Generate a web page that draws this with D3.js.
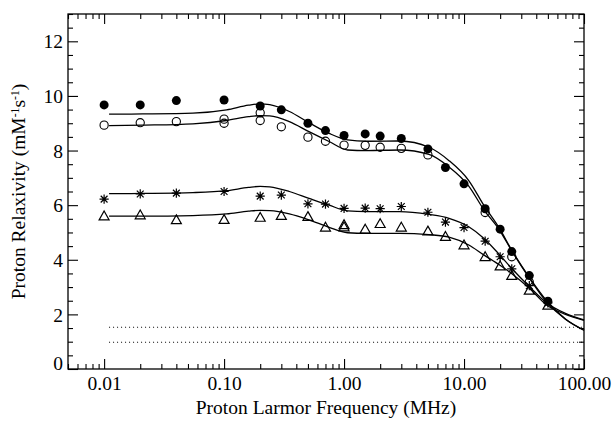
<!DOCTYPE html>
<html><head><meta charset="utf-8">
<script src="https://cdn.jsdelivr.net/npm/d3@7"></script>
<style>
body{margin:0;background:#fff}
svg{display:block}
text{font-family:"Liberation Serif","Times New Roman",serif;fill:#000}
</style></head><body><svg id="c" width="613" height="423"></svg>
<script>
// ---------- data ----------
const freqs = [0.01,0.02,0.04,0.1,0.2,0.3,0.5,0.7,1,1.5,2,3,5,7,10,15,20,25,35,50];
const filledVals = [9.67,9.67,9.83,9.85,9.63,9.49,9.0,8.73,8.55,8.61,8.53,8.44,8.06,7.38,6.78,5.87,5.12,4.3,3.42,2.48];
const openFreqs = [0.01,0.02,0.04,0.1,0.1,0.2,0.2,0.3,0.5,0.7,1,1.5,2,3,5,15,25,35];
const openVals = [8.93,9.02,9.06,9.15,9.0,9.38,9.1,8.87,8.49,8.34,8.2,8.19,8.12,8.08,7.84,5.73,4.11,3.18];
const asterVals = [6.22,6.41,6.44,6.5,6.33,6.37,6.05,6.04,5.88,5.89,5.87,5.95,5.74,5.38,5.18,4.68,4.11,3.67,3.05,2.42];
const triFreqs = [0.01,0.02,0.04,0.1,0.2,0.3,0.5,0.7,1,1,1.5,2,3,5,7,10,15,20,25,35,50];
const triVals = [5.6,5.64,5.46,5.47,5.55,5.62,5.58,5.19,5.28,5.2,5.12,5.32,5.19,5.05,4.85,4.54,4.11,3.77,3.42,2.88,2.33];

const fitFreqs = [0.011,0.021,0.055,0.105,0.16,0.2,0.24,0.35,0.51,0.75,1.07,1.54,2.9,5.1,7.5,10.95,14.6,19.8,24.9,35,48.9,70,100];
const fitFilled = [9.33,9.34,9.37,9.49,9.66,9.71,9.68,9.43,9.02,8.63,8.39,8.34,8.35,8.12,7.63,6.9,6.0,5.14,4.36,3.36,2.5,1.83,1.42];
const fitOpen = [8.91,8.93,8.98,9.1,9.24,9.28,9.27,9.06,8.69,8.33,8.02,8.0,8.02,7.86,7.4,6.7,5.84,5.08,4.34,3.33,2.45,1.82,1.42];
const fitAster = [6.42,6.43,6.46,6.53,6.65,6.69,6.67,6.5,6.25,6.0,5.79,5.76,5.76,5.66,5.52,5.21,4.79,4.18,3.69,3.02,2.42,2.04,1.8];
const fitTri = [5.6,5.6,5.62,5.68,5.78,5.81,5.8,5.68,5.46,5.19,4.99,4.97,4.97,4.92,4.83,4.54,4.18,3.81,3.5,2.96,2.34,2.0,1.78];

const dottedVals = [1.53, 0.98];
const dottedRange = [0.011, 100];

const xTickValues = [0.01, 0.1, 1, 10, 100];
const xTickLabels = ["0.01", "0.10", "1.00", "10.00", "100.00"];
const yTickValues = [0, 2, 4, 6, 8, 10, 12];
const yTickLabels = ["0", "2", "4", "6", "8", "10", "12"];
const xTitle = "Proton Larmor Frequency (MHz)";

// ---------- layout ----------
const L = 68, R = 584, T = 14, B = 369;
const svg = d3.select("#c");
const x = d3.scaleLog().domain([0.005, 100]).range([L, R]);
const y = d3.scaleLinear().domain([0, 13]).range([B, T]);

const xMinor = [];
[0.001,0.01,0.1,1,10].forEach(d => { for (let k=2;k<=9;k++){ const v=d*k; if (v>=0.005 && v<100) xMinor.push(v);} });
const yMinor = d3.range(0, 13.01, 0.5).filter(v => v % 2 !== 0);

const fs = 19.5;
function style(g){ g.select(".domain").remove(); g.selectAll("line").attr("stroke","#000").attr("stroke-width",1.1); g.selectAll("text").attr("font-size",fs).attr("fill","#000").attr("font-family",'"Liberation Serif","Times New Roman",serif'); }

// bottom
svg.append("g").attr("transform",`translate(0,${B})`)
  .call(d3.axisBottom(x).tickValues(xTickValues).tickSizeInner(-10).tickSizeOuter(0).tickPadding(7)
    .tickFormat((d,i)=>xTickLabels[i])).call(style);
svg.append("g").attr("transform",`translate(0,${B})`)
  .call(d3.axisBottom(x).tickValues(xMinor).tickSize(-5).tickFormat("")).call(style);
// top
svg.append("g").attr("transform",`translate(0,${T})`)
  .call(d3.axisTop(x).tickValues(xTickValues).tickSize(-10).tickFormat("")).call(style);
svg.append("g").attr("transform",`translate(0,${T})`)
  .call(d3.axisTop(x).tickValues(xMinor).tickSize(-5).tickFormat("")).call(style);
// left
const gl = svg.append("g").attr("transform",`translate(${L},0)`)
  .call(d3.axisLeft(y).tickValues(yTickValues).tickSizeInner(-10).tickSizeOuter(0).tickPadding(5)
    .tickFormat((d,i)=>yTickLabels[i])).call(style);
gl.selectAll("text").attr("dy", d => d === 0 ? "0.0em" : "0.34em");
svg.append("g").attr("transform",`translate(${L},0)`)
  .call(d3.axisLeft(y).tickValues(yMinor).tickSize(-5).tickFormat("")).call(style);
// right
svg.append("g").attr("transform",`translate(${R},0)`)
  .call(d3.axisRight(y).tickValues(yTickValues).tickSize(-10).tickFormat("")).call(style);
svg.append("g").attr("transform",`translate(${R},0)`)
  .call(d3.axisRight(y).tickValues(yMinor).tickSize(-5).tickFormat("")).call(style);

// frame
svg.append("rect").attr("x",L).attr("y",T).attr("width",R-L).attr("height",B-T)
  .attr("fill","none").attr("stroke","#000").attr("stroke-width",1.3);

// dotted lines
dottedVals.forEach(v => {
  svg.append("line").attr("x1",x(dottedRange[0])).attr("x2",x(dottedRange[1]))
    .attr("y1",y(v)).attr("y2",y(v)).attr("stroke","#000").attr("stroke-width",1.1)
    .attr("stroke-dasharray","1,3");
});

// fit curves
const line = d3.line().x(d=>x(d[0])).y(d=>y(d[1])).curve(d3.curveMonotoneX);
[fitFilled, fitOpen, fitAster, fitTri].forEach(arr => {
  svg.append("path").attr("d", line(fitFreqs.map((f,i)=>[f,arr[i]])))
    .attr("fill","none").attr("stroke","#000").attr("stroke-width",1.3);
});

// markers
svg.append("g").selectAll("circle").data(openFreqs.map((f,i)=>[f,openVals[i]])).join("circle")
  .attr("cx",d=>x(d[0])).attr("cy",d=>y(d[1])).attr("r",4.1)
  .attr("fill","none").attr("stroke","#000").attr("stroke-width",1.1);
svg.append("g").selectAll("circle").data(freqs.map((f,i)=>[f,filledVals[i]])).join("circle")
  .attr("cx",d=>x(d[0])).attr("cy",d=>y(d[1])).attr("r",4.5).attr("fill","#000");
const aS = 4.6, aD = 3.4;
svg.append("g").selectAll("path").data(freqs.map((f,i)=>[f,asterVals[i]])).join("path")
  .attr("transform",d=>`translate(${x(d[0])},${y(d[1])})`)
  .attr("d",`M${-aS},0H${aS}M0,${-aS}V${aS}M${-aD},${-aD}L${aD},${aD}M${-aD},${aD}L${aD},${-aD}`)
  .attr("stroke","#000").attr("stroke-width",1.2).attr("fill","none");
svg.append("g").selectAll("path").data(triFreqs.map((f,i)=>[f,triVals[i]])).join("path")
  .attr("transform",d=>`translate(${x(d[0])},${y(d[1])})`)
  .attr("d","M0,-5L5,3.8L-5,3.8Z")
  .attr("stroke","#000").attr("stroke-width",1.2).attr("fill","none");

// titles
svg.append("text").attr("x",(L+R)/2).attr("y",414).attr("text-anchor","middle")
  .attr("font-size",fs).text(xTitle);
const yt = svg.append("text").attr("transform",`translate(25,${(T+B)/2}) rotate(-90)`)
  .attr("text-anchor","middle").attr("font-size",fs);
yt.append("tspan").text("Proton Relaxivity (mM");
yt.append("tspan").attr("baseline-shift","super").attr("font-size",fs*0.6).text("-1");
yt.append("tspan").text("s");
yt.append("tspan").attr("baseline-shift","super").attr("font-size",fs*0.6).text("-1");
yt.append("tspan").text(")");
</script></body></html>
